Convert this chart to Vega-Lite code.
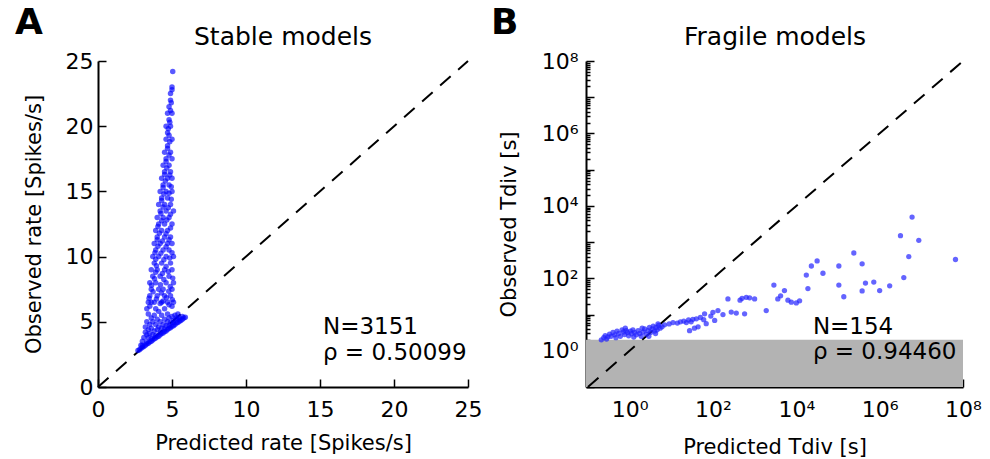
{
  "$schema": "https://vega.github.io/schema/vega-lite/v6.json",
  "padding": {"left": 15, "top": 5, "right": 5, "bottom": 2},
  "spacing": 8,
  "config": {
    "view": {"stroke": null},
    "font": "DejaVu Sans",
    "axis": {"domainColor": "black", "domainWidth": 2, "tickColor": "black", "tickWidth": 1.5, "ticks": true, "labelColor": "black", "titleColor": "black", "labelFontSize": 22, "titleFontSize": 21, "titleFontWeight": "normal", "grid": false, "labelFont": "DejaVu Sans", "titleFont": "DejaVu Sans", "labelFlush": false, "labelOverlap": false}
  },
  "datasets": {
    "stable": [
      {"x":2.7,"y":2.8},{"x":2.8,"y":2.85},{"x":2.9,"y":2.95},{"x":3.0,"y":3.05},{"x":3.1,"y":3.1},{"x":3.2,"y":3.2},{"x":3.3,"y":3.3},{"x":3.4,"y":3.35},{"x":3.5,"y":3.45},{"x":3.6,"y":3.5},{"x":3.7,"y":3.6},{"x":3.8,"y":3.7},{"x":3.9,"y":3.75},{"x":4.0,"y":3.85},{"x":4.1,"y":3.9},{"x":4.2,"y":4.0},{"x":4.3,"y":4.1},{"x":4.4,"y":4.15},{"x":4.5,"y":4.25},{"x":4.6,"y":4.3},{"x":4.7,"y":4.4},{"x":4.8,"y":4.5},{"x":4.9,"y":4.55},{"x":5.0,"y":4.65},{"x":5.1,"y":4.7},{"x":5.2,"y":4.8},{"x":5.3,"y":4.9},{"x":5.4,"y":4.95},{"x":5.5,"y":5.05},{"x":5.6,"y":5.1},{"x":5.7,"y":5.2},{"x":5.8,"y":5.3},{"x":5.9,"y":5.35},
      {"x":3.0,"y":3.2},{"x":3.3,"y":3.45},{"x":3.6,"y":3.7},{"x":3.9,"y":3.95},{"x":4.2,"y":4.2},{"x":4.5,"y":4.45},{"x":4.8,"y":4.7},{"x":5.1,"y":4.95},{"x":5.4,"y":5.2},{"x":5.7,"y":5.4},{"x":5.5,"y":5.3},
      {"x":2.9,"y":3.2},{"x":3.0,"y":3.5},{"x":3.1,"y":3.8},{"x":3.2,"y":4.2},{"x":3.2,"y":4.6},{"x":3.3,"y":4.0},{"x":3.3,"y":5.0},{"x":3.4,"y":4.4},{"x":3.4,"y":3.8},{"x":3.5,"y":4.8},{"x":3.5,"y":4.1},{"x":3.6,"y":5.3},{"x":3.6,"y":4.5},{"x":3.7,"y":4.0},{"x":3.7,"y":5.0},{"x":3.8,"y":4.3},{"x":3.8,"y":5.5},{"x":3.9,"y":4.8},{"x":4.0,"y":4.4},{"x":4.0,"y":5.2},{"x":4.1,"y":5.8},{"x":4.1,"y":4.6},{"x":4.2,"y":5.0},{"x":4.3,"y":4.5},{"x":4.3,"y":5.5},{"x":4.4,"y":4.8},{"x":4.5,"y":5.2},{"x":4.5,"y":6.0},{"x":4.6,"y":4.7},{"x":4.7,"y":5.0},{"x":4.7,"y":5.6},{"x":4.8,"y":5.3},{"x":4.9,"y":4.9},{"x":5.0,"y":5.4},{"x":5.0,"y":6.2},{"x":5.1,"y":5.1},{"x":5.2,"y":5.5},{"x":5.3,"y":5.3},{"x":5.4,"y":5.6},{"x":3.4,"y":5.6},{"x":3.5,"y":6.2},{"x":3.9,"y":6.0},{"x":4.2,"y":6.4},{"x":4.4,"y":6.6},{"x":4.8,"y":6.3},{"x":3.6,"y":6.5},{"x":3.3,"y":6.0},
      {"x":3.4,"y":6.5},{"x":3.8,"y":6.5},{"x":4.3,"y":6.5},{"x":4.7,"y":6.5},{"x":5.1,"y":6.5},
      {"x":3.5,"y":7.0},{"x":4.0,"y":7.0},{"x":4.5,"y":7.0},{"x":4.9,"y":7.0},
      {"x":3.6,"y":7.5},{"x":4.1,"y":7.5},{"x":4.4,"y":7.5},{"x":5.0,"y":7.5},
      {"x":3.5,"y":8.0},{"x":3.9,"y":8.0},{"x":4.6,"y":8.0},{"x":5.1,"y":8.0},
      {"x":3.7,"y":8.5},{"x":4.2,"y":8.5},{"x":4.8,"y":8.5},
      {"x":3.6,"y":9.0},{"x":4.0,"y":9.0},{"x":4.5,"y":9.0},{"x":5.0,"y":9.0},
      {"x":3.8,"y":9.5},{"x":4.3,"y":9.5},{"x":4.9,"y":9.5},
      {"x":3.7,"y":10.0},{"x":4.1,"y":10.0},{"x":4.6,"y":10.0},{"x":5.1,"y":10.0},
      {"x":3.9,"y":10.5},{"x":4.4,"y":10.5},{"x":4.8,"y":10.5},
      {"x":3.8,"y":11.0},{"x":4.2,"y":11.0},{"x":4.7,"y":11.0},{"x":5.0,"y":11.0},
      {"x":4.0,"y":11.5},{"x":4.5,"y":11.5},{"x":4.9,"y":11.5},
      {"x":3.9,"y":12.0},{"x":4.3,"y":12.0},{"x":4.7,"y":12.0},
      {"x":4.1,"y":12.5},{"x":4.5,"y":12.5},{"x":5.0,"y":12.5},
      {"x":4.0,"y":13.0},{"x":4.4,"y":13.0},{"x":4.8,"y":13.0},
      {"x":4.2,"y":13.5},{"x":4.6,"y":13.5},{"x":5.1,"y":13.5},
      {"x":4.1,"y":14.0},{"x":4.5,"y":14.0},{"x":4.9,"y":14.0},
      {"x":4.3,"y":14.5},{"x":4.7,"y":14.5},
      {"x":4.2,"y":15.0},{"x":4.6,"y":15.0},{"x":5.0,"y":15.0},
      {"x":4.4,"y":15.5},{"x":4.8,"y":15.5},
      {"x":4.3,"y":16.0},{"x":4.7,"y":16.0},{"x":5.0,"y":16.0},
      {"x":4.5,"y":16.5},{"x":4.9,"y":16.5},
      {"x":4.4,"y":17.0},{"x":4.8,"y":17.0},
      {"x":4.6,"y":17.5},{"x":5.0,"y":17.5},
      {"x":4.5,"y":18.0},{"x":4.9,"y":18.0},
      {"x":4.7,"y":18.5},
      {"x":4.6,"y":19.0},{"x":5.0,"y":19.0},
      {"x":4.7,"y":19.5},
      {"x":4.6,"y":20.0},{"x":4.9,"y":20.0},
      {"x":4.8,"y":20.5},
      {"x":4.7,"y":21.0},{"x":5.0,"y":21.0},
      {"x":4.8,"y":21.5},{"x":4.9,"y":22.0},{"x":4.9,"y":22.5},{"x":5.0,"y":23.0},{"x":5.05,"y":24.2},
      {"x":3.45,"y":6.8},{"x":3.95,"y":6.75},{"x":4.62,"y":6.85},{"x":5.02,"y":6.7},{"x":3.72,"y":7.3},{"x":4.28,"y":7.2},{"x":4.78,"y":7.35},{"x":3.62,"y":7.8},{"x":4.22,"y":7.85},{"x":4.88,"y":7.7},{"x":3.82,"y":8.3},{"x":4.45,"y":8.25},{"x":5.05,"y":8.35},{"x":3.9,"y":8.8},{"x":4.35,"y":8.7},{"x":4.75,"y":8.85},{"x":3.95,"y":9.3},{"x":4.6,"y":9.25},{"x":3.9,"y":9.8},{"x":4.45,"y":9.75},{"x":4.85,"y":9.9},{"x":3.85,"y":10.3},{"x":4.25,"y":10.25},{"x":5.0,"y":10.3},{"x":4.05,"y":10.8},{"x":4.6,"y":10.75},{"x":4.0,"y":11.3},{"x":4.35,"y":11.2},{"x":4.8,"y":11.3},{"x":4.15,"y":11.8},{"x":4.6,"y":11.75},{"x":4.05,"y":12.3},{"x":4.9,"y":12.2},{"x":4.3,"y":12.75},{"x":4.65,"y":12.8},{"x":4.25,"y":13.3},{"x":4.9,"y":13.25},{"x":4.4,"y":13.8},{"x":4.75,"y":13.75},{"x":4.3,"y":14.3},{"x":4.95,"y":14.4},{"x":4.45,"y":14.8},{"x":4.8,"y":14.85},{"x":4.4,"y":15.3},{"x":4.95,"y":15.35},{"x":4.55,"y":15.8},{"x":4.5,"y":16.3},{"x":4.85,"y":16.25},{"x":4.65,"y":16.8},{"x":4.6,"y":17.3},{"x":4.8,"y":17.8},{"x":4.7,"y":18.3},{"x":4.85,"y":18.8},{"x":4.8,"y":19.3},{"x":4.75,"y":19.8},{"x":4.85,"y":20.3},{"x":4.9,"y":21.2},{"x":4.95,"y":21.8},{"x":5.0,"y":22.8}
    ],
    "fragile": [
      {"x":0.21,"y":2.0},{"x":0.24,"y":2.3},{"x":0.26,"y":2.6},{"x":0.30,"y":2.4},{"x":0.33,"y":2.9},{"x":0.36,"y":2.5},{"x":0.40,"y":3.2},{"x":0.44,"y":2.75},{"x":0.47,"y":2.3},{"x":0.50,"y":3.5},{"x":0.55,"y":3.0},{"x":0.60,"y":2.5},{"x":0.66,"y":3.8},{"x":0.71,"y":3.3},{"x":0.76,"y":2.8},{"x":0.83,"y":3.6},{"x":0.89,"y":3.2},{"x":0.95,"y":2.6},{"x":1.05,"y":3.5},{"x":1.12,"y":2.95},{"x":1.2,"y":3.8},{"x":1.32,"y":3.2},{"x":1.45,"y":2.75},{"x":1.6,"y":3.6},{"x":1.75,"y":3.0},{"x":1.9,"y":2.5},{"x":2.1,"y":3.3},{"x":2.3,"y":4.0},{"x":2.5,"y":2.9},{"x":2.75,"y":3.6},{"x":3.0,"y":4.4},{"x":3.2,"y":3.2},{"x":3.5,"y":4.0},{"x":3.7,"y":4.8},{"x":4.0,"y":3.5},{"x":4.3,"y":4.4},{"x":4.6,"y":3.8},{"x":5.0,"y":5.0},{"x":5.4,"y":4.2},{"x":6.0,"y":4.6},{"x":6.9,"y":5.2},{"x":0.28,"y":2.1},{"x":0.79,"y":4.2},{"x":1.26,"y":2.4},{"x":2.0,"y":4.2},{"x":2.9,"y":2.5},{"x":4.2,"y":3.0},{"x":4.8,"y":5.5},
      {"x":8.9,"y":5.5},{"x":11,"y":6.0},{"x":14,"y":5.8},{"x":16.6,"y":6.3},{"x":20,"y":6.6},{"x":23,"y":6.0},{"x":26,"y":7.1},{"x":30,"y":6.3},{"x":33,"y":7.4},{"x":27.5,"y":3.6},{"x":36,"y":4.2},{"x":44,"y":4.6},{"x":40,"y":7.6},{"x":50,"y":8.3},{"x":60,"y":7.2},{"x":69,"y":5.6},{"x":63,"y":10.5},{"x":89,"y":9.1},{"x":110,"y":6.9},{"x":132,"y":12.9},{"x":100,"y":11.5},{"x":174,"y":10},{"x":229,"y":27},{"x":275,"y":11.7},{"x":363,"y":11},{"x":447,"y":25},{"x":500,"y":28},{"x":575,"y":10.5},{"x":631,"y":30},{"x":760,"y":29},{"x":1000,"y":27},{"x":1900,"y":12.9},{"x":2900,"y":65},{"x":3600,"y":27},{"x":4200,"y":33},{"x":5200,"y":46},{"x":6300,"y":25},{"x":7600,"y":22},{"x":10000,"y":21},{"x":12000,"y":24},{"x":17400,"y":123},{"x":19000,"y":52},{"x":23000,"y":219},{"x":31600,"y":302},{"x":43600,"y":138},{"x":105000,"y":219},{"x":105000,"y":65},{"x":138000,"y":31},{"x":240000,"y":500},{"x":380000,"y":251},{"x":380000,"y":45},{"x":457000,"y":74},{"x":724000,"y":79},{"x":1000000,"y":46},{"x":1740000,"y":62},{"x":3160000,"y":1510},{"x":3800000,"y":105},{"x":5000000,"y":398},{"x":6000000,"y":4900},{"x":8700000,"y":1120},{"x":66000000,"y":331}
    ]
  },
  "hconcat": [
    {
      "width": 370,
      "height": 326,
      "encoding": {
        "x": {"field": "x", "type": "quantitative", "scale": {"domain": [0, 25], "nice": false, "zero": false},
              "axis": {"values": [0, 5, 10, 15, 20, 25], "tickSize": -8, "labelPadding": 20, "title": "Predicted rate [Spikes/s]", "titlePadding": 12}},
        "y": {"field": "y", "type": "quantitative", "scale": {"domain": [0, 25], "nice": false, "zero": false},
              "axis": {"values": [0, 5, 10, 15, 20, 25], "tickSize": -8, "labelPadding": 13, "title": "Observed rate [Spikes/s]", "titlePadding": 21}}
      },
      "layer": [
        {"data": {"values": [{"x": 0, "y": 0, "x2": 25, "y2": 25}]},
         "mark": {"type": "rule", "strokeDash": [14, 10], "strokeWidth": 2, "color": "black"},
         "encoding": {"x2": {"field": "x2"}, "y2": {"field": "y2"}}},
        {"data": {"name": "stable"},
         "mark": {"type": "circle", "size": 30, "color": "#0000ff", "opacity": 0.65}},
        {"data": {"values": [{"x": 15.2, "y": 4.6, "t": "N=3151"}, {"x": 15.2, "y": 2.6, "t": "ρ = 0.50099"}]},
         "mark": {"type": "text", "align": "left", "baseline": "middle", "fontSize": 23, "color": "black"},
         "encoding": {"text": {"field": "t"}}},
        {"data": {"values": [{"x": 12.5, "y": 26.85, "t": "Stable models"}]},
         "mark": {"type": "text", "align": "center", "baseline": "middle", "fontSize": 25, "color": "black"},
         "encoding": {"text": {"field": "t"}}},
        {"data": {"values": [{"x": -5.6, "y": 27.9, "t": "A"}]},
         "mark": {"type": "text", "align": "left", "baseline": "middle", "fontSize": 36, "fontWeight": "bold", "color": "black"},
         "encoding": {"text": {"field": "t"}}}
      ]
    },
    {
      "width": 377,
      "height": 326,
      "encoding": {
        "x": {"field": "x", "type": "quantitative", "scale": {"type": "log", "domain": [0.09, 100000000], "nice": false},
              "axis": {"values": [0.1,0.2,0.3,0.4,0.5,0.6,0.7,0.8,0.9,1,2,3,4,5,6,7,8,9,10,20,30,40,50,60,70,80,90,100,200,300,400,500,600,700,800,900,1000,2000,3000,4000,5000,6000,7000,8000,9000,10000,20000,30000,40000,50000,60000,70000,80000,90000,100000,200000,300000,400000,500000,600000,700000,800000,900000,1000000,2000000,3000000,4000000,5000000,6000000,7000000,8000000,9000000,10000000,20000000,30000000,40000000,50000000,60000000,70000000,80000000,90000000,100000000],
                       "labelExpr": "datum.value == 1 ? '10⁰' : datum.value == 100 ? '10²' : datum.value == 10000 ? '10⁴' : datum.value == 1000000 ? '10⁶' : datum.value == 100000000 ? '10⁸' : ''",
                       "tickSize": {"condition": {"test": "indexof([0.1,1,10,100,1000,10000,100000,1000000,10000000,100000000], datum.value) >= 0", "value": -8}, "value": -4},
                       "labelPadding": 20, "title": "Predicted Tdiv [s]", "titlePadding": 12}},
        "y": {"field": "y", "type": "quantitative", "scale": {"type": "log", "domain": [0.1, 100000000], "nice": false},
              "axis": {"values": [0.1,0.2,0.3,0.4,0.5,0.6,0.7,0.8,0.9,1,2,3,4,5,6,7,8,9,10,20,30,40,50,60,70,80,90,100,200,300,400,500,600,700,800,900,1000,2000,3000,4000,5000,6000,7000,8000,9000,10000,20000,30000,40000,50000,60000,70000,80000,90000,100000,200000,300000,400000,500000,600000,700000,800000,900000,1000000,2000000,3000000,4000000,5000000,6000000,7000000,8000000,9000000,10000000,20000000,30000000,40000000,50000000,60000000,70000000,80000000,90000000,100000000],
                       "labelExpr": "datum.value == 1 ? '10⁰' : datum.value == 100 ? '10²' : datum.value == 10000 ? '10⁴' : datum.value == 1000000 ? '10⁶' : datum.value == 100000000 ? '10⁸' : ''",
                       "tickSize": {"condition": {"test": "indexof([0.1,1,10,100,1000,10000,100000,1000000,10000000,100000000], datum.value) >= 0", "value": -8}, "value": -4},
                       "labelPadding": 16, "title": "Observed Tdiv [s]", "titlePadding": 22}}
      },
      "layer": [
        {"data": {"values": [{"x": 0.09, "x2": 100000000, "y": 0.1, "y2": 2}]},
         "mark": {"type": "rect", "color": "#b3b3b3"},
         "encoding": {"x2": {"field": "x2"}, "y2": {"field": "y2"}}},
        {"data": {"values": [{"x": 0.1, "y": 0.1, "x2": 100000000, "y2": 100000000}]},
         "mark": {"type": "rule", "strokeDash": [14, 10], "strokeWidth": 2, "color": "black"},
         "encoding": {"x2": {"field": "x2"}, "y2": {"field": "y2"}}},
        {"data": {"name": "fragile"},
         "mark": {"type": "circle", "size": 28, "color": "#2222ff", "opacity": 0.7}},
        {"data": {"values": [{"x": 25000, "y": 4.5, "t": "N=154"}, {"x": 25000, "y": 0.9, "t": "ρ = 0.94460"}]},
         "mark": {"type": "text", "align": "left", "baseline": "middle", "fontSize": 23, "color": "black"},
         "encoding": {"text": {"field": "t"}}},
        {"data": {"values": [{"x": 3090, "y": 460000000, "t": "Fragile models"}]},
         "mark": {"type": "text", "align": "center", "baseline": "middle", "fontSize": 25, "color": "black"},
         "encoding": {"text": {"field": "t"}}},
        {"data": {"values": [{"x": 0.00047, "y": 1100000000, "t": "B"}]},
         "mark": {"type": "text", "align": "left", "baseline": "middle", "fontSize": 36, "fontWeight": "bold", "color": "black"},
         "encoding": {"text": {"field": "t"}}}
      ]
    }
  ]
}
